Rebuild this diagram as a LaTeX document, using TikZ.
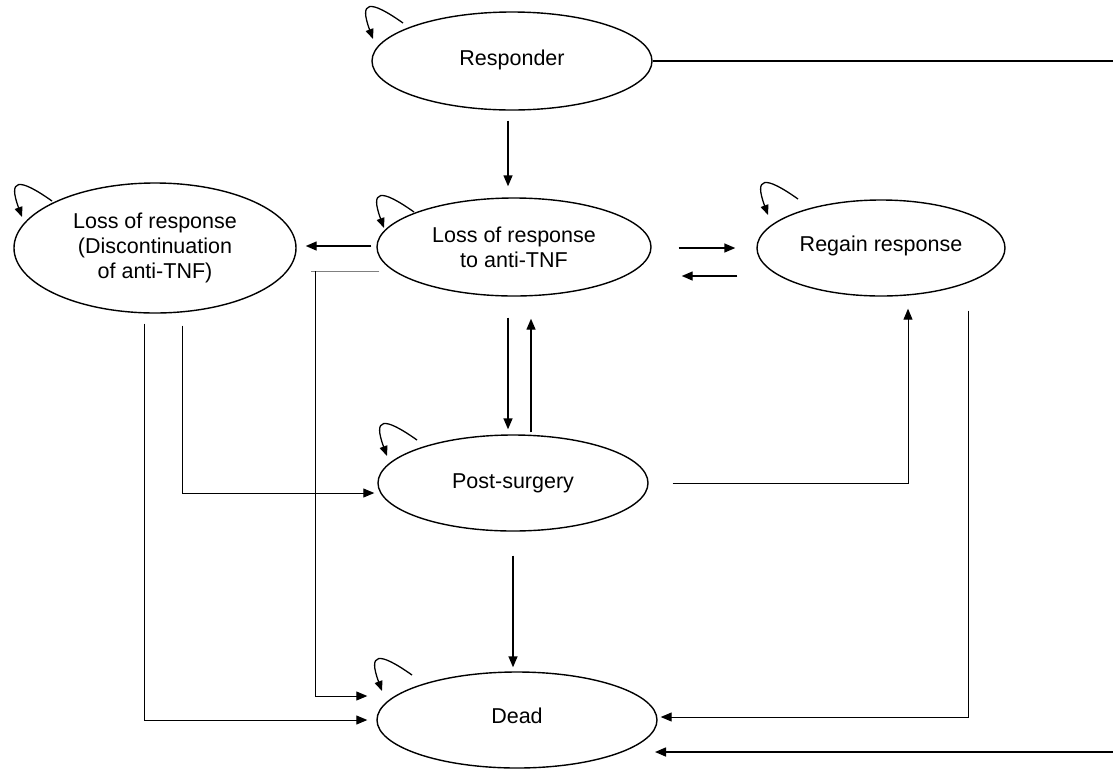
\documentclass[tikz,border=0pt]{standalone}
\usepackage{fontspec}
\setmainfont{Liberation Sans}
\usetikzlibrary{arrows.meta,calc,shapes.geometric}
\begin{document}
\begin{tikzpicture}[x=1pt,y=-1pt,
  state/.style={ellipse,draw,line width=1.4pt,inner sep=0pt,align=center,
    font=\fontsize{21.5}{25}\selectfont},
  arr/.style={line width=1.4pt,-{Triangle[length=11pt,width=9pt]}},
  elbow/.style={line width=1pt,-{Triangle[length=11pt,width=9pt]}},
  link/.style={line width=1pt},
  looparr/.style={line width=1.3pt,-{Triangle[length=10pt,width=8pt]}}]
\clip (0,0) rectangle (1113,769);
\fill[white] (0,0) rectangle (1113,769);

% states
\node[state,minimum width=280pt,minimum height=98pt] (resp) at (512,61) {\raisebox{6pt}{Responder}};
\node[state,minimum width=282pt,minimum height=130pt] (ld) at (155,248) {Loss of response\\(Discontinuation\\of anti-TNF)};
\node[state,minimum width=274pt,minimum height=98pt] (lr) at (514,247) {Loss of response\\to anti-TNF};
\node[state,minimum width=248pt,minimum height=96pt] (rg) at (881,248) {\raisebox{8pt}{Regain response}};
\node[state,minimum width=270pt,minimum height=96pt] (ps) at (513,483) {Post-surgery};
\node[state,minimum width=280pt,minimum height=96pt] (dead) at (517,720) {\raisebox{8pt}{Dead}};

% self transitions
\foreach \n/\dx/\dy in {resp/-109/-38, ld/-103/-47, lr/-100/-35, rg/-83/-49, ps/-96/-43, dead/-105/-45}{
  \draw[looparr, shift={($(\n.center)+(\dx,\dy)$)}] (0,0) .. controls (-34,-24) and (-44,-22) .. (-30,16);
}

% straight transitions
\draw[arr] ($(resp.south)+(-4,10)$) -- ($(lr.north)+(-6,-11)$);
\draw[arr] ($(lr.west)+(-5,-1)$) -- ($(ld.east)+(9,-2)$);
\draw[arr] ($(lr.east)+(27,1)$) -- ($(rg.west)+(-21,0)$);
\draw[arr] ($(rg.west)+(-19,28)$) -- ($(lr.east)+(30,29)$);
\draw[arr] ($(lr.south)+(-6,21)$) -- ($(ps.north)+(-5,-5)$);
\draw[arr] ($(ps.north)+(18,-2)$) -- ($(lr.south)+(17,22)$);
\draw[arr] ($(ps.south)+(0,24)$) -- ($(dead.north)+(-4,-4)$);

% elbow transitions
\draw[elbow] ($(ps.east)+(24,0)$) -| ($(rg.south)+(27,12)$);
\draw[elbow] ($(rg.south)+(87,14)$) |- ($(dead.east)+(3,-3)$);
\draw[elbow] ($(ld.south)+(27,12)$) |- ($(ps.west)+(-3,10)$);
\draw[elbow] ($(ld.south)+(-11,10)$) |- ($(dead.west)+(-9,0)$);
\draw[link,gray] ($(lr.west)+(3,24)$) -- ($(lr.west)+(-65,24)$);
\draw[elbow] ($(lr.west)+(-61,24)$) |- ($(dead.west)+(-9,-24)$);

% responder to dead, routed past the right margin
\coordinate (deadR) at (655,752);
\draw[line width=1.6pt,-{Triangle[length=11pt,width=9pt]}] (resp.east) -- (1125,61) |- (deadR);
\end{tikzpicture}
\end{document}
